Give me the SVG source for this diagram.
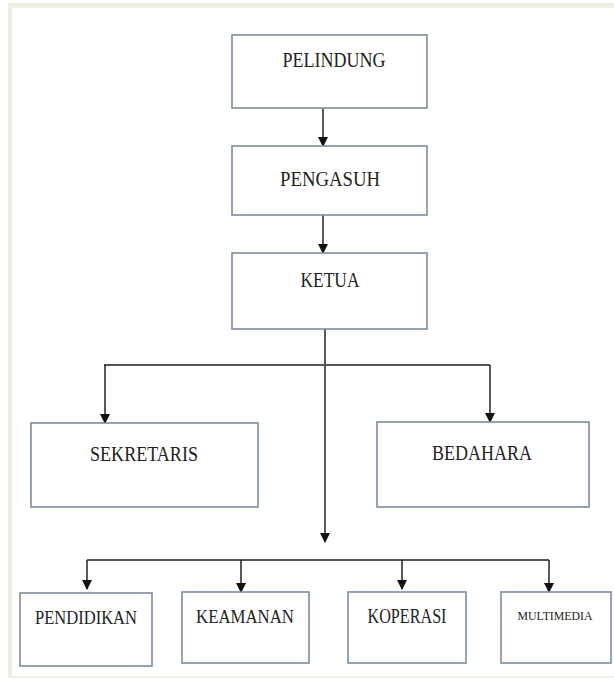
<svg xmlns="http://www.w3.org/2000/svg" width="614" height="679" viewBox="0 0 614 679">
<defs>
<marker id="ah" markerWidth="10" markerHeight="12" refX="9" refY="5" orient="auto" markerUnits="userSpaceOnUse" viewBox="0 0 10 10">
<path d="M0,0 L10,5 L0,10 Z" fill="#111"/>
</marker>
<style>
.box{fill:#fff;stroke:#7d8ba0;stroke-width:1.6}
.t{font-family:"Liberation Serif","Times New Roman",serif;fill:#222;text-anchor:middle}
.c{stroke:#222;stroke-width:1.5;fill:none}
.h{stroke:#555;stroke-width:2;fill:none}
</style>
</defs>
<rect x="0" y="0" width="614" height="679" fill="#fff"/>
<rect x="8" y="3" width="606" height="5" fill="#efeee4"/>
<rect x="8" y="3" width="4" height="675" fill="#efeee4"/>
<rect x="8" y="676" width="606" height="2" fill="#f1f0e8"/>
<g id="connectors">
<line class="c" x1="323" y1="109" x2="323" y2="146" marker-end="url(#ah)"/>
<line class="c" x1="323" y1="215" x2="323" y2="253" marker-end="url(#ah)"/>
<line class="c" x1="325" y1="329" x2="325" y2="542" marker-end="url(#ah)"/>
<line class="h" x1="104" y1="365" x2="490" y2="365"/>
<line class="c" x1="105" y1="365" x2="105" y2="423" marker-end="url(#ah)"/>
<line class="c" x1="490" y1="365" x2="490" y2="422" marker-end="url(#ah)"/>
<line class="h" x1="87" y1="560" x2="549" y2="560"/>
<line class="c" x1="87" y1="560" x2="87" y2="589" marker-end="url(#ah)"/>
<line class="c" x1="241" y1="560" x2="241" y2="592" marker-end="url(#ah)"/>
<line class="c" x1="402" y1="560" x2="402" y2="589" marker-end="url(#ah)"/>
<line class="c" x1="549" y1="560" x2="549" y2="592" marker-end="url(#ah)"/>
</g>
<g id="pelindung">
<rect class="box" x="232" y="35" width="195" height="73"/>
<text class="t" x="334" y="67" font-size="20" textLength="103" lengthAdjust="spacingAndGlyphs">PELINDUNG</text>
</g>
<g id="pengasuh">
<rect class="box" x="232" y="146" width="195" height="69"/>
<text class="t" x="330" y="186" font-size="20" textLength="100" lengthAdjust="spacingAndGlyphs">PENGASUH</text>
</g>
<g id="ketua">
<rect class="box" x="232" y="253" width="195" height="76"/>
<text class="t" x="330" y="287" font-size="21" textLength="59" lengthAdjust="spacingAndGlyphs">KETUA</text>
</g>
<g id="sekretaris">
<rect class="box" x="31" y="423" width="227" height="84"/>
<text class="t" x="144" y="461" font-size="22" textLength="108" lengthAdjust="spacingAndGlyphs">SEKRETARIS</text>
</g>
<g id="bedahara">
<rect class="box" x="377" y="422" width="212" height="85"/>
<text class="t" x="482" y="460" font-size="22" textLength="100" lengthAdjust="spacingAndGlyphs">BEDAHARA</text>
</g>
<g id="pendidikan">
<rect class="box" x="20" y="593" width="132" height="73"/>
<text class="t" x="86" y="624" font-size="19" textLength="102" lengthAdjust="spacingAndGlyphs">PENDIDIKAN</text>
</g>
<g id="keamanan">
<rect class="box" x="182" y="592" width="127" height="71"/>
<text class="t" x="245" y="623" font-size="19" textLength="98" lengthAdjust="spacingAndGlyphs">KEAMANAN</text>
</g>
<g id="koperasi">
<rect class="box" x="348" y="592" width="118" height="71"/>
<text class="t" x="407" y="623" font-size="20" textLength="79" lengthAdjust="spacingAndGlyphs">KOPERASI</text>
</g>
<g id="multimedia">
<rect class="box" x="501" y="592" width="110" height="71"/>
<text class="t" x="555" y="620" font-size="13" textLength="75" lengthAdjust="spacingAndGlyphs">MULTIMEDIA</text>
</g>
</svg>
